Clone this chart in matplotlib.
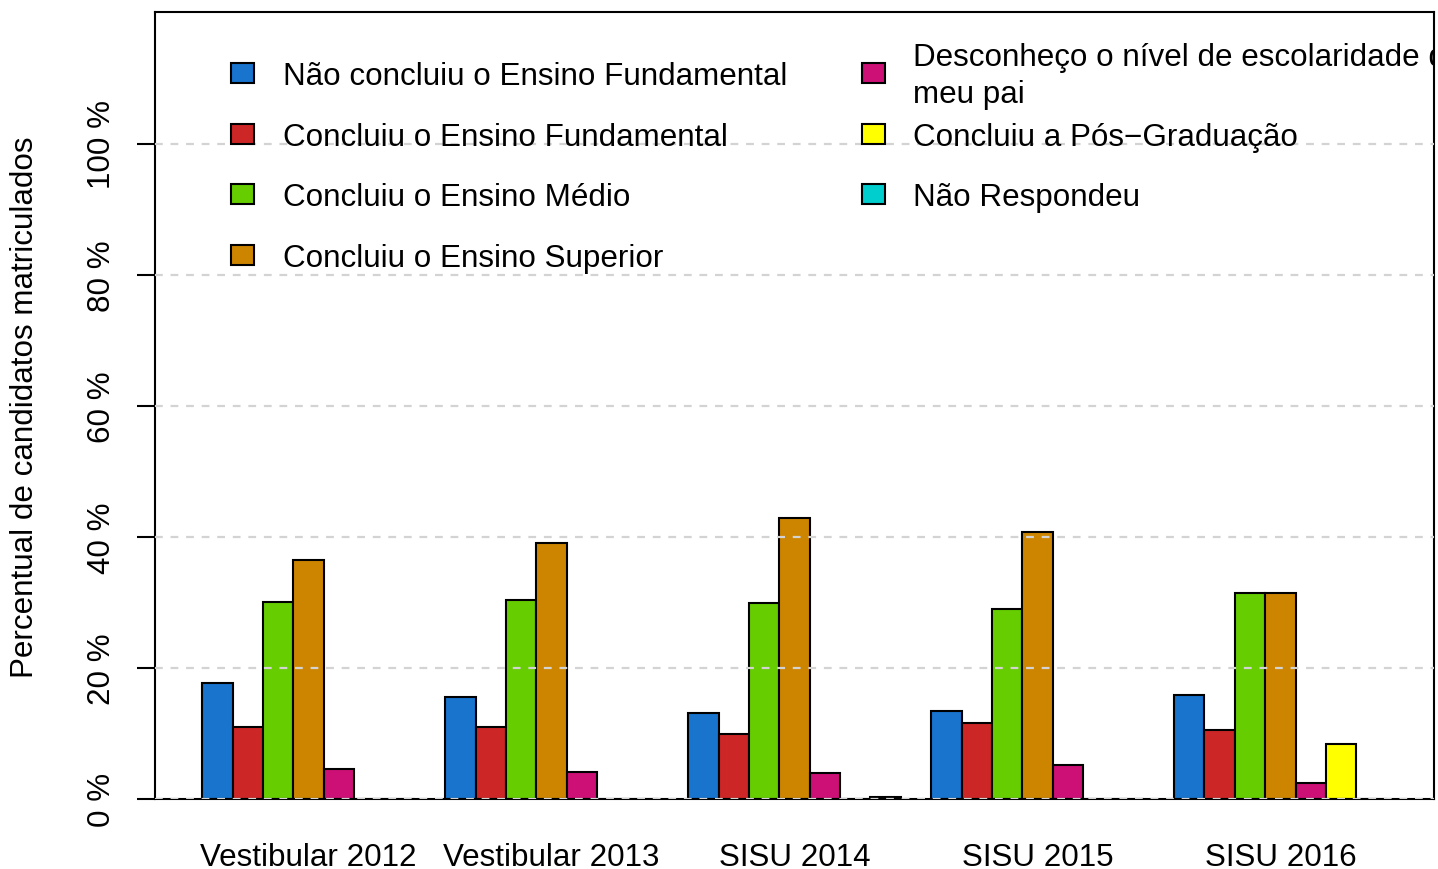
import numpy as np
import matplotlib
matplotlib.use("Agg")
import matplotlib.pyplot as plt

plt.rcParams['font.family'] = ['Liberation Sans', 'DejaVu Sans']

categorias = ['Vestibular 2012', 'Vestibular 2013', 'SISU 2014', 'SISU 2015', 'SISU 2016']
nao_concluiu_fund = [17.7, 15.6, 13.2, 13.4, 15.8]
concluiu_fund = [11.0, 11.0, 9.9, 11.6, 10.6]
concluiu_medio = [30.1, 30.4, 29.9, 29.0, 31.4]
concluiu_superior = [36.5, 39.1, 42.9, 40.7, 31.4]
desconheco = [4.6, 4.1, 4.0, 5.2, 2.4]
pos_graduacao = [0.0, 0.0, 0.0, 0.0, 8.4]
nao_respondeu = [0.0, 0.0, 0.25, 0.0, 0.0]

rotulos = ['Não concluiu o Ensino Fundamental',
           'Concluiu o Ensino Fundamental',
           'Concluiu o Ensino Médio',
           'Concluiu o Ensino Superior',
           'Desconheço o nível de escolaridade do\nmeu pai',
           'Concluiu a Pós\u2212Graduação',
           'Não Respondeu']
cores = ['#1874CD', '#CD2626', '#66CD00', '#CD8500', '#CD1076', '#FFFF00', '#00CDCD']

series = [nao_concluiu_fund, concluiu_fund, concluiu_medio, concluiu_superior,
          desconheco, pos_graduacao, nao_respondeu]

fs = 22.6
fig = plt.figure(figsize=(14.38, 8.7), dpi=100)
ax = fig.add_axes([155 / 1438, 70 / 870, 1279 / 1438, 787 / 870])

n_series = len(series)
passo = n_series + 1
grupos = np.arange(len(categorias)) * passo + 1
for j, (vals, cor) in enumerate(zip(series, cores)):
    ax.bar(grupos + j + 0.5, vals, width=1, color=cor, edgecolor='black',
           linewidth=1.5, zorder=1)

yticks = np.arange(0, 101, 20)
for yt in yticks:
    ax.axhline(yt, color='#D3D3D3', linewidth=1.6, linestyle=(0, (3.5, 3.5)), zorder=3)

ax.set_xlim(-0.56, 41.56)
ax.set_ylim(0, 120.1)
ax.set_yticks(yticks)
ax.set_yticklabels([f'{v} %' for v in yticks], fontsize=fs, rotation=90, va='center')
ax.set_xticks(grupos + n_series / 2)
ax.set_xticklabels(categorias, fontsize=fs)
ax.tick_params(axis='x', length=0, pad=31)
ax.tick_params(axis='y', length=13, width=1.5, pad=14)
for s in ax.spines.values():
    s.set_linewidth(1.5)

# legenda em duas colunas
lx = [0.0592, 0.5525]
tx = [0.1003, 0.5928]
ly0 = 0.9225
dy = 0.077
for i, (rot, cor) in enumerate(zip(rotulos, cores)):
    col, row = i // 4, i % 4
    yc = ly0 - row * dy
    ax.add_patch(plt.Rectangle((lx[col], yc - 0.0127), 0.0185, 0.0254,
                               transform=ax.transAxes, facecolor=cor,
                               edgecolor='black', linewidth=1.5, zorder=4))
    nl = rot.count('\n')
    ax.text(tx[col], yc - (11 + nl * 18.5) / 787, rot, transform=ax.transAxes,
            fontsize=fs, va='baseline', ha='left', linespacing=1.33,
            clip_on=True, zorder=4)

fig.text(25 / 1438, 1 - 407 / 870, 'Percentual de candidatos matriculados',
         rotation=90, ha='center', va='center', fontsize=fs)

fig.savefig('out.png', dpi=100)
